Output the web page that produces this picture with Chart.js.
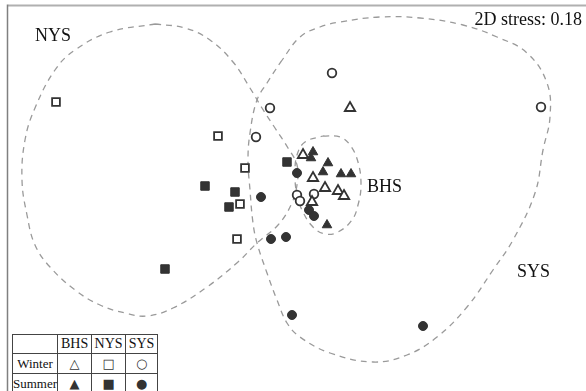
<!DOCTYPE html>
<html>
<head>
<meta charset="utf-8">
<script src="https://cdn.jsdelivr.net/npm/chart.js@4"></script>
<style>
  body { margin: 0; background: #fff; }
  #wrap { position: relative; width: 586px; height: 391px; overflow: hidden; }
  #legendTable {
    position: absolute; left: 12px; top: 334px;
    border-collapse: collapse; background: #fff;
    font-family: 'Liberation Serif', serif; color: #111;
  }
  #legendTable td { border: 1px solid #444; padding: 0; text-align: center; white-space: nowrap; }
  #legendTable tr.head td { height: 18px; font-size: 14px; }
  #legendTable tr.body td { height: 19px; font-size: 13px; }
  #legendTable td.mk { font-family: 'DejaVu Sans', sans-serif; font-size: 7px; font-weight: bold; color: #333; }
</style>
</head>
<body>
<div id="wrap">
  <canvas id="nmds" width="586" height="391"></canvas>
  <table id="legendTable">
    <colgroup><col style="width:43px"><col style="width:34px"><col style="width:34px"><col style="width:32px"></colgroup>
    <tr class="head"><td></td><td>BHS</td><td>NYS</td><td>SYS</td></tr>
    <tr class="body"><td>Winter</td><td class="mk">△</td><td class="mk">□</td><td class="mk">○</td></tr>
    <tr class="body"><td>Summer</td><td class="mk">▲</td><td class="mk">■</td><td class="mk">●</td></tr>
  </table>
</div>
<script>
// nMDS ordination scores (axis 1, axis 2)
const bhsWinter = [[0.50, 0.92], [0.03, 0.45], [0.13, 0.22], [0.25, 0.12], [0.38, 0.09], [0.44, 0.04], [0.12, -0.02]];
const bhsSummer = [[0.13, 0.48], [0.11, 0.42], [0.28, 0.37], [0.23, 0.28], [0.41, 0.26], [0.51, 0.26], [0.27, -0.25]];
const nysWinter = [[-2.44, 0.98], [-0.82, 0.64], [-0.55, 0.32], [-0.60, -0.04], [-0.63, -0.39]];
const nysSummer = [[-0.95, 0.14], [-0.65, 0.08], [-0.71, -0.07], [-1.35, -0.69], [-0.13, 0.38]];
const sysWinter = [[0.32, 1.27], [-0.30, 0.92], [-0.44, 0.63], [2.41, 0.93], [-0.03, 0.05], [0.00, -0.01], [0.14, 0.06]];
const sysSummer = [[-0.39, 0.03], [-0.03, 0.27], [-0.29, -0.39], [-0.14, -0.37], [-0.08, -1.15], [1.23, -1.26], [0.09, -0.10], [0.14, -0.16]];

// dashed cluster outlines
const nysHull = [[-1.45, 1.76], [-1.15, 1.72], [-0.90, 1.60], [-0.67, 1.38], [-0.50, 1.12], [-0.38, 0.92], [-0.25, 0.72],
  [-0.12, 0.52], [-0.03, 0.35], [-0.03, 0.15], [-0.09, -0.05], [-0.22, -0.25], [-0.43, -0.43], [-0.62, -0.62],
  [-0.93, -0.87], [-1.27, -1.08], [-1.53, -1.16], [-1.75, -1.13], [-2.00, -1.05], [-2.25, -0.90], [-2.50, -0.67],
  [-2.65, -0.45], [-2.73, -0.15], [-2.78, 0.20], [-2.75, 0.60], [-2.65, 0.92], [-2.45, 1.30], [-2.25, 1.50],
  [-1.90, 1.68], [-1.45, 1.76]];
const sysHull = [[-0.20, 1.37], [0.00, 1.63], [0.20, 1.73], [0.40, 1.78], [0.80, 1.83], [1.20, 1.82], [1.63, 1.75],
  [1.97, 1.63], [2.27, 1.47], [2.47, 1.17], [2.50, 0.83], [2.43, 0.50], [2.35, 0.07], [2.13, -0.40], [1.93, -0.70],
  [1.67, -1.07], [1.37, -1.37], [1.07, -1.55], [0.73, -1.62], [0.30, -1.53], [0.00, -1.37], [-0.13, -1.23],
  [-0.23, -1.00], [-0.33, -0.73], [-0.43, -0.43], [-0.47, -0.23], [-0.50, 0.10], [-0.52, 0.40], [-0.50, 0.67],
  [-0.43, 1.00], [-0.33, 1.17], [-0.20, 1.37]];
const bhsHull = [[0.23, 0.64], [0.40, 0.63], [0.50, 0.55], [0.58, 0.38], [0.61, 0.15], [0.58, -0.05], [0.52, -0.20],
  [0.38, -0.32], [0.25, -0.34], [0.13, -0.27], [0.03, -0.12], [-0.03, 0.05], [-0.05, 0.25], [-0.03, 0.45],
  [0.05, 0.58], [0.23, 0.64]];

const groupLabels = ['NYS', 'BHS', 'SYS'];
const stressLabel = '2D stress: 0.18';

const toXY = (arr) => arr.map(([x, y]) => ({ x, y }));

const ink = '#333';

const hullSet = (data) => ({
    data: toXY(data),
    showLine: true,
    borderColor: '#9a9a9a',
    borderWidth: 1.3,
    borderDash: [6, 5],
    tension: 0.4,
    pointRadius: 0,
    fill: false,
    order: 10
});

const openSet = (data, style, r) => ({
    data: toXY(data),
    pointStyle: style,
    pointRadius: r,
    pointBackgroundColor: '#fff',
    pointBorderColor: ink,
    pointBorderWidth: 1.8,
    order: 1
});

const filledSet = (data, style, r) => ({
    data: toXY(data),
    pointStyle: style,
    pointRadius: r,
    pointBackgroundColor: ink,
    pointBorderColor: ink,
    pointBorderWidth: 1,
    order: 0
});

// frame lines and text labels
const decorations = {
    id: 'decorations',
    beforeDraw(chart) {
        const { ctx, chartArea } = chart;
        ctx.save();
        ctx.strokeStyle = '#b0b0b0';
        ctx.lineWidth = 2;
        ctx.beginPath();
        ctx.moveTo(chartArea.left, chartArea.top - 0.5);
        ctx.lineTo(chartArea.right, chartArea.top - 0.5);
        ctx.stroke();
        ctx.strokeStyle = '#808080';
        ctx.lineWidth = 1.5;
        ctx.beginPath();
        ctx.moveTo(chartArea.left - 0.5, chartArea.top - 1.5);
        ctx.lineTo(chartArea.left - 0.5, chartArea.bottom);
        ctx.stroke();
        ctx.restore();
    },
    afterDatasetsDraw(chart) {
        const { ctx, chartArea, scales: { x, y } } = chart;
        const spots = [[-2.65, 1.59], [0.67, 0.08], [2.17, -0.77]];
        ctx.save();
        ctx.fillStyle = '#111';
        ctx.font = '18px "Liberation Serif", serif';
        ctx.textBaseline = 'alphabetic';
        ctx.textAlign = 'left';
        groupLabels.forEach((t, i) => {
            ctx.fillText(t, x.getPixelForValue(spots[i][0]), y.getPixelForValue(spots[i][1]));
        });
        ctx.textAlign = 'right';
        ctx.fillText(stressLabel, chartArea.right - 4, chartArea.top + 19);
        ctx.restore();
    }
};

new Chart(document.getElementById('nmds').getContext('2d'), {
    type: 'scatter',
    data: {
        datasets: [
            hullSet(nysHull),
            hullSet(sysHull),
            hullSet(bhsHull),
            openSet(bhsWinter, 'triangle', 6),
            filledSet(bhsSummer, 'triangle', 5.5),
            openSet(nysWinter, 'rect', 5.5),
            filledSet(nysSummer, 'rect', 6),
            openSet(sysWinter, 'circle', 4.3),
            filledSet(sysSummer, 'circle', 4.5)
        ]
    },
    options: {
        responsive: false,
        animation: false,
        layout: { autoPadding: false, padding: { left: 8, top: 6, right: 0, bottom: 0 } },
        plugins: { legend: { display: false }, tooltip: { enabled: false } },
        scales: {
            x: { type: 'linear', min: -2.92, max: 2.86, display: false },
            y: { type: 'linear', min: -1.91, max: 1.94, display: false }
        }
    },
    plugins: [decorations]
});
</script>
</body>
</html>
